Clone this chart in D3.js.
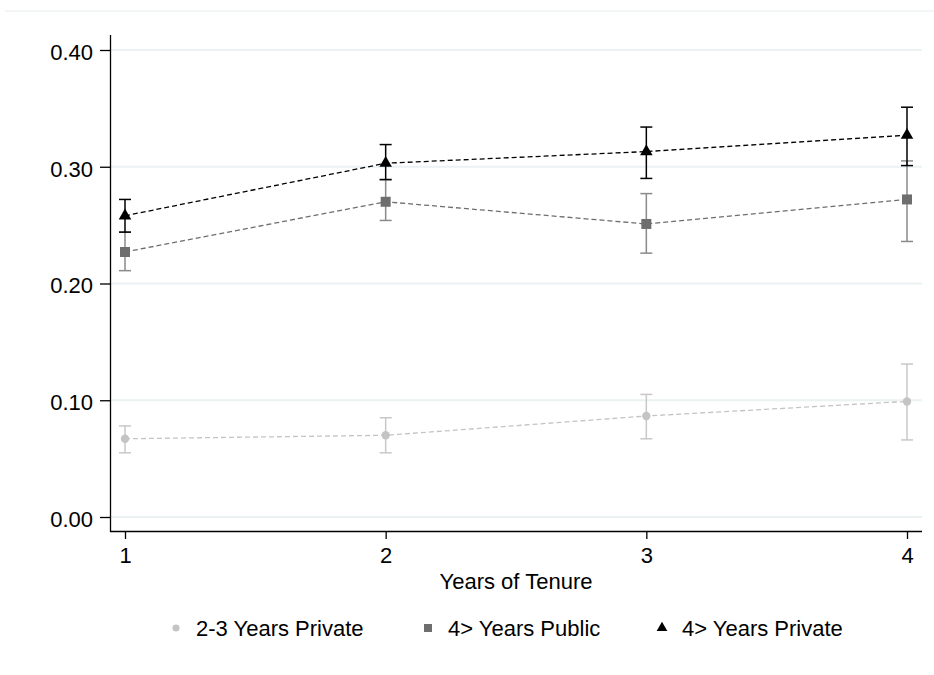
<!DOCTYPE html>
<html><head><meta charset="utf-8">
<script src="https://cdn.jsdelivr.net/npm/d3@7"></script>
<style>body{margin:0;background:#fff}svg{display:block}text{font-family:"Liberation Sans",Arial,sans-serif}</style>
</head><body>
<script>
const years = [1, 2, 3, 4];
const yTicks = [0, 0.1, 0.2, 0.3, 0.4];
const seriesNames = ["2-3 Years Private", "4> Years Public", "4> Years Private"];
const est23Private = [0.067, 0.070, 0.0865, 0.099];
const lo23Private  = [0.055, 0.055, 0.067, 0.066];
const hi23Private  = [0.078, 0.085, 0.105, 0.131];
const est4Public   = [0.227, 0.270, 0.251, 0.272];
const lo4Public    = [0.211, 0.254, 0.226, 0.236];
const hi4Public    = [0.244, 0.289, 0.277, 0.305];
const est4Private  = [0.258, 0.303, 0.313, 0.327];
const lo4Private   = [0.244, 0.289, 0.290, 0.301];
const hi4Private   = [0.272, 0.319, 0.334, 0.351];

const W = 934, H = 675;
const svg = d3.select("body").append("svg").attr("width", W).attr("height", H);
const x = d3.scaleLinear().domain([1, 4]).range([125, 907]);
const y = d3.scaleLinear().domain([0, 0.4]).range([517, 50]);

// outer region line
svg.append("line").attr("x1", 5).attr("x2", W).attr("y1", 11).attr("y2", 11)
  .attr("stroke", "#eef3f3").attr("stroke-width", 1.5);

// gridlines
svg.append("g").selectAll("line").data(yTicks).join("line")
  .attr("x1", 111).attr("x2", 922).attr("y1", d => y(d)).attr("y2", d => y(d))
  .attr("stroke", "#eaf2f3").attr("stroke-width", 2);

// axes
const yAxis = d3.axisLeft(y).tickValues(yTicks).tickFormat(d3.format(".2f")).tickSize(10).tickPadding(7);
const gy = svg.append("g").attr("transform", "translate(110,0)").call(yAxis);
gy.select(".domain").attr("d", "M0.5,35V532");
gy.selectAll(".tick text").attr("dy", "0.42em");
const xAxis = d3.axisBottom(x).tickValues(years).tickFormat(d3.format("d")).tickSize(8).tickPadding(8);
const gx = svg.append("g").attr("transform", "translate(0,531)").call(xAxis);
gx.select(".domain").attr("d", "M110,0.5H922");
[gy, gx].forEach(g => {
  g.selectAll(".domain").attr("stroke", "#000").attr("stroke-width", 1.3);
  g.selectAll(".tick line").attr("stroke", "#000").attr("stroke-width", 1.3);
  g.selectAll(".tick text").attr("font-size", 22).attr("fill", "#000");
});

svg.append("text").attr("x", (x(1) + x(4)) / 2).attr("y", 589).attr("text-anchor", "middle")
  .attr("font-size", 22).text("Years of Tenure");

const series = [
  {name: seriesNames[0], est: est23Private, lo: lo23Private, hi: hi23Private, color: "#c4c4c4", ci: "#c8c8c8", shape: "circle"},
  {name: seriesNames[1], est: est4Public, lo: lo4Public, hi: hi4Public, color: "#6e6e6e", ci: "#8a8a8a", shape: "square"},
  {name: seriesNames[2], est: est4Private, lo: lo4Private, hi: hi4Private, color: "#000000", ci: "#000000", shape: "triangle"}
];
const symType = {circle: d3.symbolCircle, square: d3.symbolSquare, triangle: d3.symbolTriangle};
const symSize = {circle: 55, square: 100, triangle: 68};

series.forEach(s => {
  const g = svg.append("g");
  const pts = years.map((yr, i) => [x(yr), y(s.est[i])]);
  g.append("path").attr("d", d3.line()(pts)).attr("fill", "none")
    .attr("stroke", s.color).attr("stroke-width", 1.3).attr("stroke-dasharray", "5,3");
  years.forEach((yr, i) => {
    const cx = x(yr);
    g.append("line").attr("x1", cx).attr("x2", cx).attr("y1", y(s.lo[i])).attr("y2", y(s.hi[i]))
      .attr("stroke", s.ci).attr("stroke-width", 1.5);
    [s.lo[i], s.hi[i]].forEach(v => g.append("line").attr("x1", cx - 6).attr("x2", cx + 6)
      .attr("y1", y(v)).attr("y2", y(v)).attr("stroke", s.ci).attr("stroke-width", 1.5));
    g.append("path").attr("d", d3.symbol().type(symType[s.shape]).size(symSize[s.shape])())
      .attr("transform", `translate(${cx},${y(s.est[i])})`).attr("fill", s.color);
  });
});

// legend
const legX = [176, 428, 662];
series.forEach((s, i) => {
  const g = svg.append("g").attr("transform", `translate(${legX[i]},628)`);
  const sz = {circle: 40, square: 64, triangle: 50}[s.shape];
  g.append("path").attr("d", d3.symbol().type(symType[s.shape]).size(sz)()).attr("fill", s.color);
  g.append("text").attr("x", 20).attr("y", 8).attr("font-size", 22).text(s.name);
});
</script>
</body></html>
